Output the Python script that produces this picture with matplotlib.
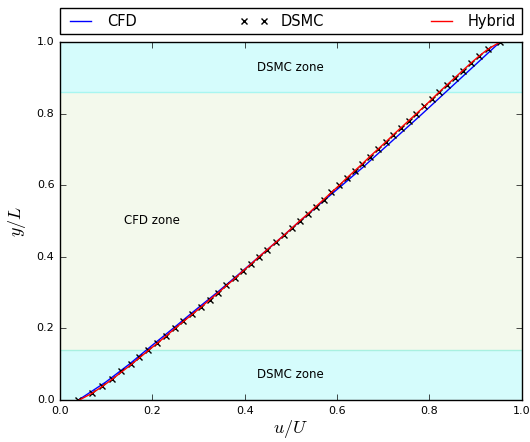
import numpy as np
import matplotlib
matplotlib.use("Agg")
import matplotlib.pyplot as plt

plt.style.use("classic")
plt.rcParams["mathtext.fontset"] = "cm"

# wall-normal position, DSMC sample grid
y_dsmc = np.linspace(0.0, 1.0, 51)
u_dsmc = [0.040, 0.069, 0.092, 0.113, 0.133, 0.153, 0.172, 0.191, 0.211, 0.229,
          0.248, 0.267, 0.286, 0.305, 0.324, 0.342, 0.360, 0.378, 0.396, 0.413,
          0.431, 0.449, 0.467, 0.485, 0.502, 0.519, 0.537, 0.554, 0.571, 0.588,
          0.605, 0.621, 0.638, 0.655, 0.671, 0.688, 0.705, 0.721, 0.738, 0.755,
          0.772, 0.789, 0.805, 0.821, 0.838, 0.855, 0.872, 0.890, 0.908, 0.927,
          0.953]

# hybrid solution on the same grid
u_hybrid = [0.042, 0.071, 0.094, 0.115, 0.135, 0.155, 0.174, 0.193, 0.212, 0.231,
            0.249, 0.268, 0.287, 0.306, 0.324, 0.343, 0.361, 0.379, 0.396, 0.414,
            0.431, 0.449, 0.467, 0.485, 0.502, 0.519, 0.537, 0.554, 0.571, 0.588,
            0.605, 0.621, 0.638, 0.655, 0.671, 0.688, 0.705, 0.721, 0.738, 0.755,
            0.772, 0.789, 0.805, 0.821, 0.838, 0.855, 0.872, 0.889, 0.907, 0.927,
            0.953]

# full CFD solution
y_cfd = np.linspace(0.0, 1.0, 21)
u_cfd = [0.040, 0.099, 0.150, 0.197, 0.245, 0.292, 0.340, 0.386, 0.431, 0.476,
         0.520, 0.565, 0.611, 0.656, 0.699, 0.742, 0.785, 0.827, 0.869, 0.911,
         0.953]

# zone limits
dsmc_low = (0.0, 0.14)
dsmc_high = (0.86, 1.0)

fig = plt.figure(figsize=(5.3, 4.42), dpi=100, facecolor="white")
ax = fig.add_axes([0.1132, 0.0950, 0.8712, 0.8100])

ax.axhspan(*dsmc_low, facecolor="#d5fcfc", edgecolor="none", zorder=0)
ax.axhspan(dsmc_low[1], dsmc_high[0], facecolor="#f3f9ec", edgecolor="none", zorder=0)
ax.axhspan(*dsmc_high, facecolor="#d5fcfc", edgecolor="none", zorder=0)
ax.axhline(dsmc_low[1], color="#a8f0e0", lw=1.0, zorder=1)
ax.axhline(dsmc_high[0], color="#a8f6f0", lw=1.0, zorder=1)

ax.plot(u_cfd, y_cfd, "-", color="blue", lw=1.0, label="CFD")
ax.plot(u_dsmc, y_dsmc, "x", color="black", ms=5, mew=1.0, label="DSMC")
ax.plot(u_hybrid, y_dsmc, "-", color="red", lw=1.0, label="Hybrid")

ax.text(0.5, 0.93, "DSMC zone", ha="center", va="center", fontsize=8.5)
ax.text(0.2, 0.50, "CFD zone", ha="center", va="center", fontsize=8.5)
ax.text(0.5, 0.07, "DSMC zone", ha="center", va="center", fontsize=8.5)

ax.set_xlim(0, 1)
ax.set_ylim(0, 1)
ax.set_xticks(np.arange(0, 1.01, 0.2))
ax.set_yticks(np.arange(0, 1.01, 0.2))
ax.tick_params(labelsize=8, length=4)
ax.set_xlabel(r"$u/U$", fontsize=13, labelpad=2)
ax.set_ylabel(r"$y/L$", fontsize=13, labelpad=6)

ax.legend(bbox_to_anchor=(0.0, 1.021, 1.0, 0.072), loc="lower left", ncol=3,
          mode="expand", borderaxespad=0.0, fontsize=10.5, numpoints=2,
          handlelength=2.0, fancybox=False)

fig.savefig("out.png", dpi=100, facecolor="white")
